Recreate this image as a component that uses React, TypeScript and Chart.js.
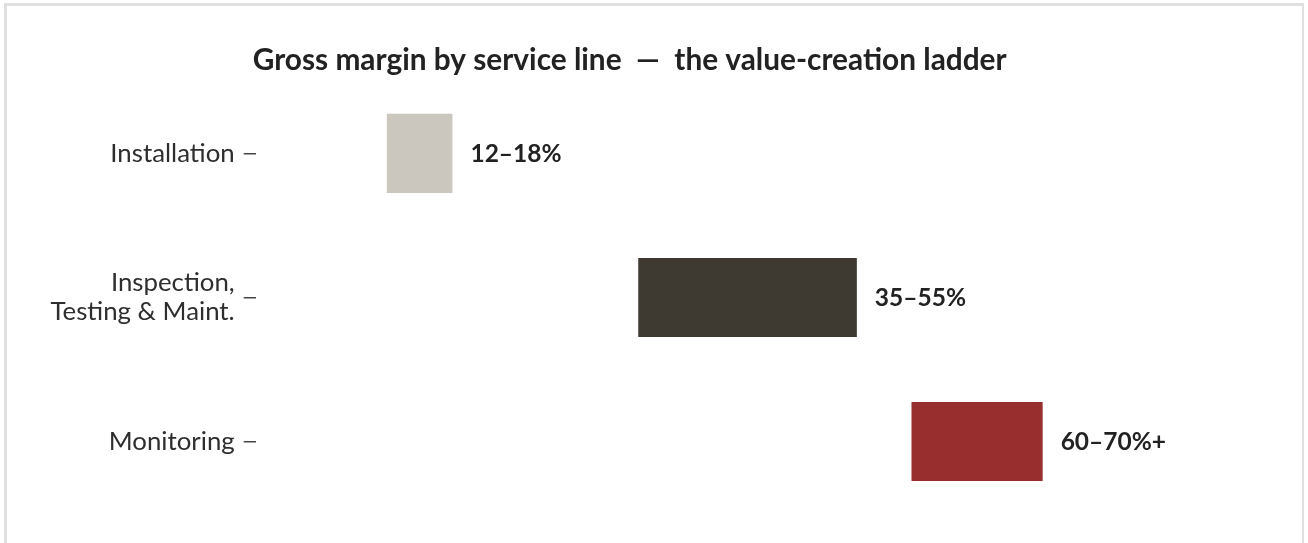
import React, { useEffect, useRef } from "react";
import { Chart, registerables } from "chart.js";

Chart.register(...registerables);

const categories: (string | string[])[] = ["Installation", ["Inspection,", "Testing & Maint."], "Monitoring"];
const lowValues = [12, 35, 60];
const highValues = [18, 55, 72];
const valueLabels = ["12–18%", "35–55%", "60–70%+"];
const barColors = ["#CBC7BF", "#3E3A31", "#992E2E"];
const titleText = "Gross margin by service line  —  the value-creation ladder";

const FONT = "Lato, 'Noto Sans', sans-serif";

export default function App() {
  const ref = useRef<HTMLCanvasElement | null>(null);

  useEffect(() => {
    document.body.style.margin = "0";
    if (!ref.current) return;

    const labelPlugin = {
      id: "rangeLabels",
      afterDatasetsDraw(chart: any) {
        const ctx = chart.ctx;
        const meta = chart.getDatasetMeta(0);
        ctx.save();
        ctx.font = `bold 24.5px ${FONT}`;
        ctx.fillStyle = "#222222";
        ctx.textAlign = "left";
        ctx.textBaseline = "middle";
        meta.data.forEach((bar: any, i: number) => {
          const right = Math.max(bar.x, bar.base);
          ctx.fillText(valueLabels[i], right + 18, bar.y + 1);
        });
        ctx.restore();
      },
    };

    const chart = new Chart(ref.current, {
      type: "bar",
      data: {
        labels: categories as any,
        datasets: [
          {
            data: lowValues.map((lo, i) => [lo, highValues[i]]) as any,
            backgroundColor: barColors,
            borderWidth: 0,
            barPercentage: 0.55,
            categoryPercentage: 1,
          },
        ],
      },
      options: {
        indexAxis: "y",
        animation: false,
        responsive: false,
        maintainAspectRatio: false,
        layout: { padding: { top: 28, bottom: 29.5, left: 0, right: 40.6 } },
        plugins: {
          legend: { display: false },
          tooltip: { enabled: false },
          title: {
            display: true,
            text: titleText,
            color: "#222222",
            font: { family: FONT, size: 29.8, weight: "bold", lineHeight: 1.2 },
            padding: { top: 14.1, bottom: 3.6 },
          },
        },
        scales: {
          x: {
            type: "linear",
            min: 0,
            max: 90,
            display: false,
          },
          y: {
            type: "category",
            afterFit: (scale: any) => {
              scale.width = 235.7;
            },
            border: { display: false },
            grid: {
              offset: false,
              drawOnChartArea: false,
              drawTicks: true,
              tickLength: 12,
              color: "#444444",
              lineWidth: 1.5,
            },
            ticks: {
              padding: 9,
              color: "#2e2e2e",
              font: { family: FONT, size: 25.8, lineHeight: 1.12 },
            },
          },
        },
      },
      plugins: [labelPlugin],
    });

    return () => chart.destroy();
  }, []);

  return (
    <div style={{ position: "relative", width: 1308, height: 543, overflow: "hidden", background: "#ffffff" }}>
      <div
        style={{
          position: "absolute",
          left: 4,
          top: 3,
          width: 1300,
          height: 600,
          borderTop: "3px solid #e0e0e0",
          borderLeft: "3px solid #e0e0e0",
          borderRight: "2px solid #e0e0e0",
          boxSizing: "border-box",
        }}
      />
      <canvas
        ref={ref}
        width={1260}
        height={543}
        style={{ position: "absolute", left: 20.3, top: 0, width: 1260, height: 543 }}
      />
    </div>
  );
}
